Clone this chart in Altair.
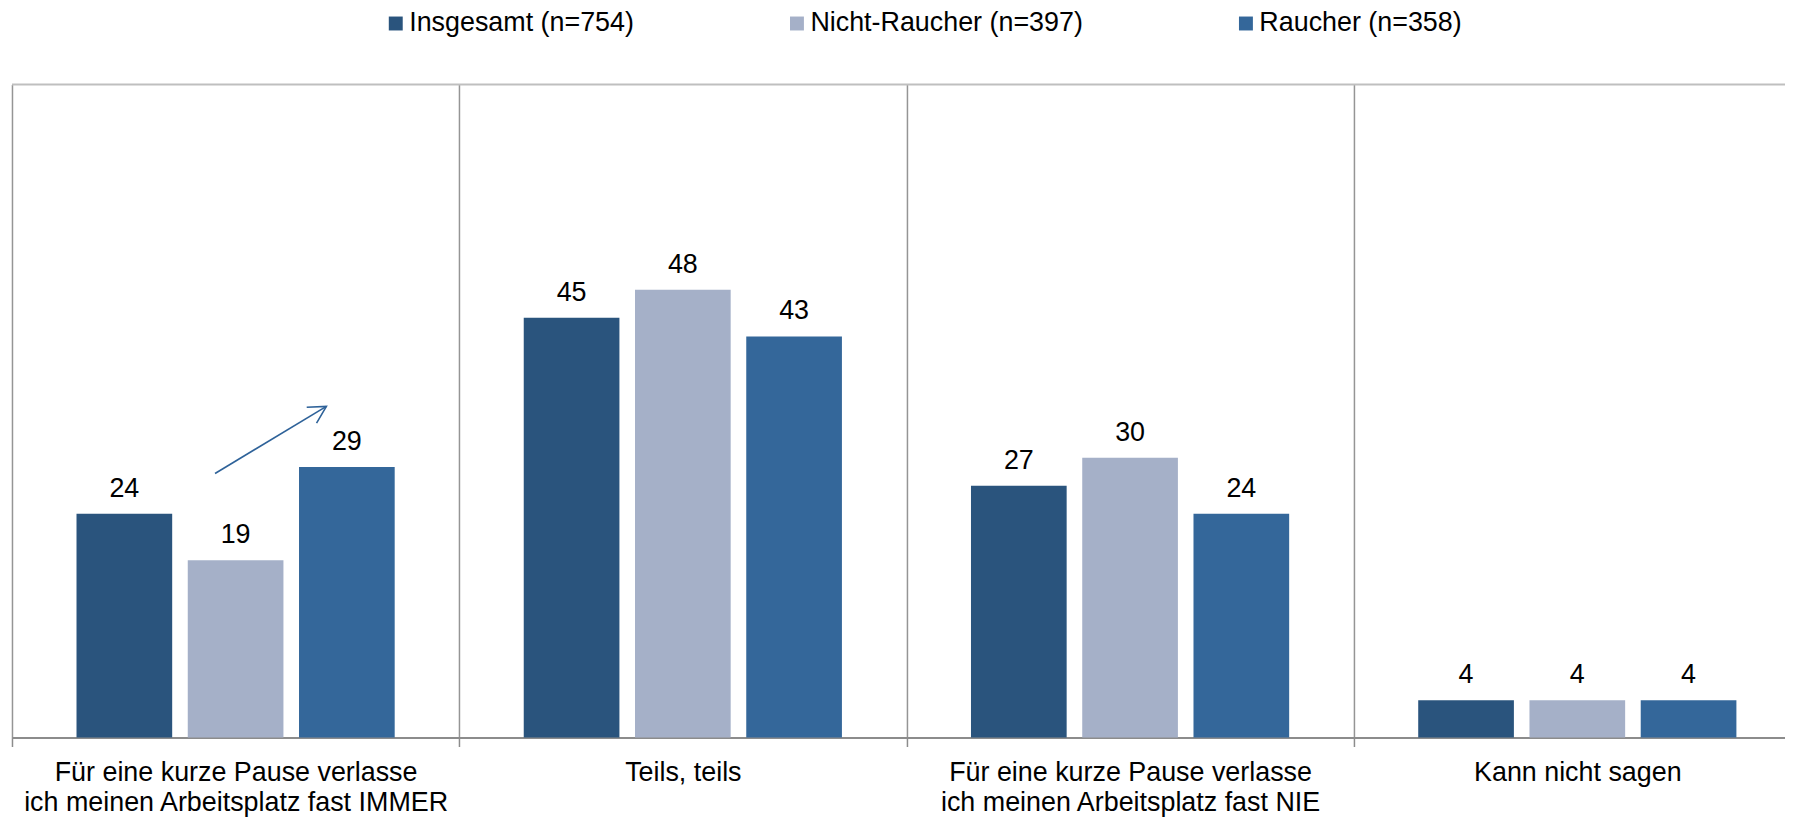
import altair as alt
import pandas as pd

categories = [
    "Für eine kurze Pause verlasse\nich meinen Arbeitsplatz fast IMMER",
    "Teils, teils",
    "Für eine kurze Pause verlasse\nich meinen Arbeitsplatz fast NIE",
    "Kann nicht sagen",
]
series = ["Insgesamt (n=754)", "Nicht-Raucher (n=397)", "Raucher (n=358)"]
insgesamt = [24, 45, 27, 4]
nicht_raucher = [19, 48, 30, 4]
raucher = [29, 43, 24, 4]
colors = ["#2a547d", "#a5b0c8", "#34679a"]

# annotation arrow (x in category units from the left edge, y in value units)
arrow_x = [0.454, 0.703, 0.659, 0.703, 0.681]
arrow_y = [28.3, 35.5, 35.4, 35.5, 33.7]
arrow_part = ["shaft", "shaft", "head", "head", "head"]
arrow_order = [0, 1, 0, 1, 2]

rows = []
for vals, s in zip([insgesamt, nicht_raucher, raucher], series):
    for c, v in zip(categories, vals):
        rows.append({"cat": c, "series": s, "value": v})
df = pd.DataFrame(rows)
arrow_df = pd.DataFrame({"ax": arrow_x, "ay": arrow_y, "part": arrow_part, "ord": arrow_order})

FONT = "Liberation Sans"
FS = 27
W = 1781
H = 656
RANGE_X = [0, 1797]

yscale = alt.Scale(domain=[0, 70], nice=False)
xscale = alt.Scale(domain=categories, range=RANGE_X, paddingInner=0, paddingOuter=0)
offscale = alt.Scale(domain=series, paddingInner=0.14, paddingOuter=0.58)

xaxis = alt.Axis(
    title=None, labelAngle=0,
    labelExpr="isValid(datum.value) ? split(datum.value, '\\n') : ''",
    labelFont=FONT, labelFontSize=FS, labelColor="black", labelLineHeight=30,
    labelLimit=800, labelPadding=13, labelBaseline="top",
    tickBand="extent", tickSize=9, tickColor="#8c8c8c", tickWidth=1.5,
    domainColor="#8c8c8c", domainWidth=2,
    grid=True, gridColor="#959595", gridWidth=1.5)

base = alt.Chart(df)

bars = base.mark_bar().encode(
    x=alt.X("cat:N", scale=xscale, sort=categories, axis=xaxis),
    xOffset=alt.XOffset("series:N", scale=offscale, sort=series),
    y=alt.Y("value:Q", scale=yscale, axis=None),
    color=alt.Color("series:N", sort=series,
                    scale=alt.Scale(domain=series, range=colors),
                    legend=alt.Legend(title=None, orient="none", legendX=372, legendY=-75,
                                      direction="horizontal", symbolType="square",
                                      symbolSize=196, symbolStrokeWidth=0,
                                      labelFont=FONT, labelFontSize=FS, labelColor="black",
                                      labelOffset=0, columnPadding=150, padding=0,
                                      labelLimit=600)),
)

labels = base.mark_text(font=FONT, fontSize=FS, color="black", baseline="alphabetic", dy=-17).encode(
    x=alt.X("cat:N", scale=xscale, sort=categories, axis=xaxis),
    xOffset=alt.XOffset("series:N", scale=offscale, sort=series),
    y=alt.Y("value:Q", scale=yscale, axis=None),
    text=alt.Text("value:Q"),
)

inner = alt.layer(bars, labels)

top_rule = alt.Chart(pd.DataFrame({"v": [70]})).mark_rule(color="#bfbfbf", strokeWidth=2).encode(
    y=alt.Y("v:Q", scale=yscale, axis=None)
)

arrow = alt.Chart(arrow_df).mark_line(color="#2e6299", strokeWidth=1.6).encode(
    x=alt.X("ax:Q", scale=alt.Scale(domain=[0, 4], range=RANGE_X), axis=None),
    y=alt.Y("ay:Q", scale=yscale, axis=None),
    detail="part:N",
    order="ord:Q",
)

chart = alt.layer(inner, top_rule, arrow).resolve_scale(x="independent").properties(
    width=W, height=H,
    autosize=alt.AutoSizeParams(type="none"),
    padding={"left": 4, "top": 75, "right": 0, "bottom": 80},
).configure_view(stroke=None)

chart.save("out.html", embed_options={"renderer": "svg", "actions": False})
